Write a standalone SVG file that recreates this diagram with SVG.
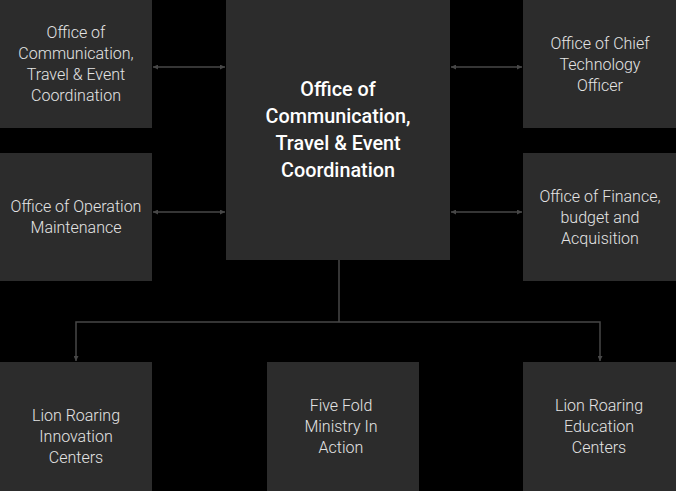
<svg xmlns="http://www.w3.org/2000/svg" width="676" height="491" viewBox="0 0 676 491">
<defs>
<style>
.box{fill:#2c2c2c}
.t{font-family:Roboto,"Liberation Sans",sans-serif;font-weight:300;font-size:16px;fill:#e4e4e4;text-anchor:middle}
.tc{font-family:Roboto,"Liberation Sans",sans-serif;font-weight:500;font-size:19.8px;fill:#ffffff;text-anchor:middle}
.ln{stroke:#474747;stroke-width:1.5;fill:none}
</style>
<marker id="ah" viewBox="0 0 10 10" refX="10" refY="5" markerWidth="5" markerHeight="5" orient="auto-start-reverse" markerUnits="userSpaceOnUse">
<path d="M0,0 L10,5 L0,10 z" fill="#474747"/>
</marker>
</defs>
<rect width="676" height="491" fill="#000"/>
<g id="connectors">
<line class="ln" x1="153" y1="67" x2="225" y2="67" marker-start="url(#ah)" marker-end="url(#ah)"/>
<line class="ln" x1="153" y1="212" x2="225" y2="212" marker-start="url(#ah)" marker-end="url(#ah)"/>
<line class="ln" x1="451" y1="67" x2="522" y2="67" marker-start="url(#ah)" marker-end="url(#ah)"/>
<line class="ln" x1="451" y1="212" x2="522" y2="212" marker-start="url(#ah)" marker-end="url(#ah)"/>
<polyline class="ln" points="339,260 339,322"/>
<polyline class="ln" points="76,361 76,322 600,322 600,361" marker-start="url(#ah)" marker-end="url(#ah)"/>
</g>
<g id="center">
<rect class="box" x="226" y="0" width="224" height="260"/>
<text class="tc" x="338" y="96">Office of</text>
<text class="tc" x="338" y="123">Communication,</text>
<text class="tc" x="338" y="150">Travel &amp; Event</text>
<text class="tc" x="338" y="177">Coordination</text>
</g>
<g id="topleft">
<rect class="box" x="0" y="0" width="152" height="128"/>
<text class="t" x="76" y="38">Office of</text>
<text class="t" x="76" y="59">Communication,</text>
<text class="t" x="76" y="80">Travel &amp; Event</text>
<text class="t" x="76" y="101">Coordination</text>
</g>
<g id="midleft">
<rect class="box" x="0" y="153" width="152" height="128"/>
<text class="t" x="76" y="212">Office of Operation</text>
<text class="t" x="76" y="233">Maintenance</text>
</g>
<g id="topright">
<rect class="box" x="523" y="0" width="153" height="128"/>
<text class="t" x="600" y="49">Office of Chief</text>
<text class="t" x="600" y="70">Technology</text>
<text class="t" x="600" y="91">Officer</text>
</g>
<g id="midright">
<rect class="box" x="523" y="153" width="153" height="128"/>
<text class="t" x="600" y="202">Office of Finance,</text>
<text class="t" x="600" y="223">budget and</text>
<text class="t" x="600" y="244">Acquisition</text>
</g>
<g id="bottomleft">
<rect class="box" x="0" y="362" width="152" height="129"/>
<text class="t" x="76" y="421">Lion Roaring</text>
<text class="t" x="76" y="442">Innovation</text>
<text class="t" x="76" y="463">Centers</text>
</g>
<g id="bottommid">
<rect class="box" x="267" y="362" width="152" height="129"/>
<text class="t" x="341" y="411">Five Fold</text>
<text class="t" x="341" y="432">Ministry In</text>
<text class="t" x="341" y="453">Action</text>
</g>
<g id="bottomright">
<rect class="box" x="523" y="362" width="153" height="129"/>
<text class="t" x="599" y="411">Lion Roaring</text>
<text class="t" x="599" y="432">Education</text>
<text class="t" x="599" y="453">Centers</text>
</g>
</svg>
